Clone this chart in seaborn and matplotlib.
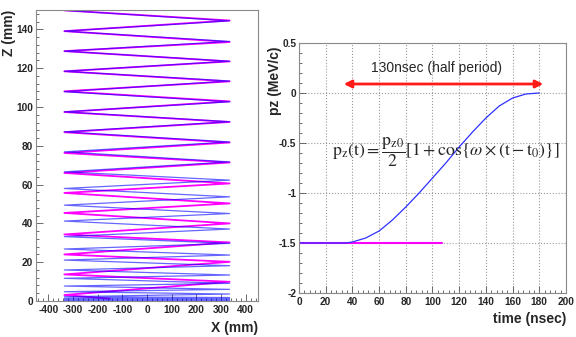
import matplotlib.pyplot as plt
import matplotlib.ticker as mticker
import seaborn as sns

# ---- left panel: helix projected on X-Z ----
helix_radius = 335  # mm
# z (mm) of successive turning points, sides alternate left/right
blue_turn_z = [0.2, 0.5, 0.8, 1.1, 1.4, 1.8, 2.2, 3.6, 4.8, 6.0, 7.7, 9.1,
               11.7, 13.4, 16.0, 18.2, 21.1, 23.7, 26.8, 29.7, 33.2, 37.1,
               41.2, 45.1, 49.4, 53.7, 58.0, 62.3, 66.6, 71.7, 76.9, 82.0,
               87.2, 92.4, 97.5, 102.7, 107.9, 113.4, 118.4, 123.6, 128.8,
               133.8, 139.1, 144.4, 149.8]
magenta_turn_z = [3.1, 9.9, 13.7, 20.2, 24.0, 30.2, 34.3, 40.0, 45.4, 50.3,
                  55.7, 60.6, 66.0, 71.4, 76.3, 81.7, 87.0, 92.3, 97.4, 102.9,
                  108.1, 113.2, 118.4, 123.5, 128.8, 133.5, 139.1, 144.6, 149.8]
magenta_start_x, magenta_start_z = -150, 1.2

helix_xticks = [-400, -300, -200, -100, 0, 100, 200, 300, 400]
helix_xlabels = ['-400', '-300', '-200', '-100', '0', '100', '200', '300', '400']
helix_zticks = [0, 20, 40, 60, 80, 100, 120, 140]
helix_zlabels = ['0', '20', '40', '60', '80', '100', '120', '140']

# ---- right panel: pz vs time ----
time_ns = [0, 10, 20, 30, 35, 40, 50, 60, 70, 80, 90, 100, 110, 120, 130,
           140, 150, 160, 170, 180]
pz_blue = [-1.5, -1.5, -1.5, -1.5, -1.5, -1.49, -1.45, -1.38, -1.27, -1.14,
           -1.0, -0.85, -0.70, -0.54, -0.39, -0.25, -0.13, -0.05, -0.01, 0.0]
time_magenta = [0, 107]
pz_magenta = [-1.5, -1.5]

time_ticks = [0, 20, 40, 60, 80, 100, 120, 140, 160, 180, 200]
time_labels = ['0', '20', '40', '60', '80', '100', '120', '140', '160', '180', '200']
pz_ticks = [0.5, 0, -0.5, -1, -1.5, -2]
pz_labels = ['0.5', '0', '-0.5', '-1', '-1.5', '-2']

half_period = (33.5, 183.0, 0.09)


def zigzag(turn_z, first_side):
    xs = [first_side * helix_radius * (-1) ** i for i in range(len(turn_z))]
    return xs, list(turn_z)


sns.set_theme(style='ticks')
plt.rcParams['font.family'] = ['Liberation Sans', 'DejaVu Sans']
plt.rcParams['axes.unicode_minus'] = False
plt.rcParams['mathtext.fontset'] = 'stix'

fig = plt.figure(figsize=(5.76, 3.37), dpi=100)
ax1 = fig.add_axes([0.0625, 0.1068, 0.3854, 0.8635])
ax2 = fig.add_axes([0.5191, 0.1306, 0.4635, 0.7418])

tick_font = dict(fontsize=7.3, fontweight='bold')
title_font = dict(fontsize=10, fontweight='bold')

# left panel
mx, mz = zigzag(magenta_turn_z, -1)
mx = [magenta_start_x] + mx
mz = [magenta_start_z] + mz
sns.lineplot(x=mx, y=mz, sort=False, estimator=None, color='#ff00ff',
             lw=1.3, ax=ax1)
bx, bz = zigzag(blue_turn_z, -1)
sns.lineplot(x=bx, y=bz, sort=False, estimator=None, color='#0000ff',
             lw=0.9, alpha=0.6, ax=ax1)

ax1.set_xlim(-450, 450)
ax1.set_ylim(0, 150)
ax1.set_xticks(helix_xticks, helix_xlabels, **tick_font)
ax1.set_yticks(helix_zticks, helix_zlabels, **tick_font)
ax1.xaxis.set_minor_locator(mticker.MultipleLocator(20))
ax1.yaxis.set_minor_locator(mticker.MultipleLocator(4))
ax1.set_xlabel('X (mm)', loc='right', **title_font)
ax1.set_ylabel('Z (mm)', loc='top', **title_font)
ax1.xaxis.set_label_coords(1.0, -0.068)
ax1.yaxis.set_label_coords(-0.092, 1.0)

# right panel
sns.lineplot(x=time_magenta, y=pz_magenta, color='#ff00ff', lw=1.5, ax=ax2)
sns.lineplot(x=time_ns, y=pz_blue, sort=False, estimator=None,
             color='#3030ff', lw=0.9, ax=ax2)
ax2.annotate('', xy=(half_period[1], half_period[2]),
             xytext=(half_period[0], half_period[2]),
             arrowprops=dict(arrowstyle='<|-|>', color='#ff1a1a', lw=2,
                             mutation_scale=11, shrinkA=0, shrinkB=0))
ax2.text(103, 0.25, '130nsec (half period)', ha='center', va='center',
         fontsize=10)
ax2.text(24.5, -0.59,
         r'$\mathrm{p_z}\left(\mathrm{t}\right)=\dfrac{\mathrm{p_{z0}}}{2}'
         r'\left[1+\mathrm{cos}\left\{\omega\times\left(\mathrm{t}-\mathrm{t_0}'
         r'\right)\right\}\right]$',
         ha='left', va='center', fontsize=12.8)

ax2.set_xlim(0, 200)
ax2.set_ylim(-2, 0.5)
ax2.set_xticks(time_ticks, time_labels, **tick_font)
ax2.set_yticks(pz_ticks, pz_labels, **tick_font)
ax2.xaxis.set_minor_locator(mticker.MultipleLocator(4))
ax2.yaxis.set_minor_locator(mticker.MultipleLocator(0.1))
ax2.grid(True, which='major', linestyle=':', color='#999999', lw=0.8)
ax2.set_axisbelow(True)
ax2.set_xlabel('time (nsec)', loc='right', **title_font)
ax2.set_ylabel('pz (MeV/c)', loc='top', **title_font)
ax2.xaxis.set_label_coords(1.0, -0.075)
ax2.yaxis.set_label_coords(-0.062, 0.985)

for ax in (ax1, ax2):
    for sp in ax.spines.values():
        sp.set_visible(True)
        sp.set_color('#8a8a8a')
        sp.set_linewidth(0.8)
    ax.tick_params(which='both', direction='in', top=False, right=False,
                   color='#555555', width=0.6, pad=2)
    ax.tick_params(which='major', length=5)
    ax.tick_params(which='minor', length=2.5)
    ax.tick_params(axis='x', pad=3)

fig.savefig('out.png', dpi=100)
